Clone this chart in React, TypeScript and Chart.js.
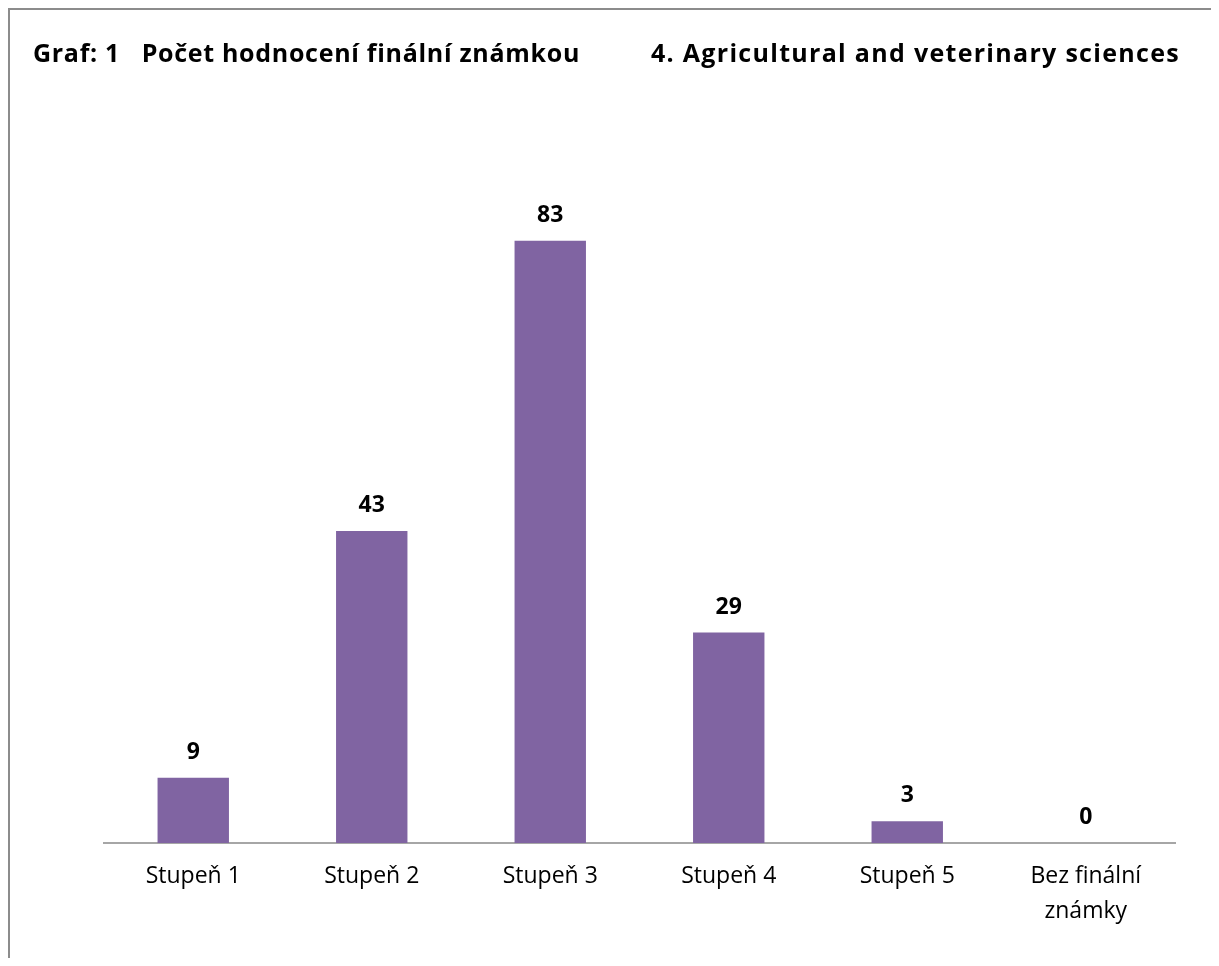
import React, { useEffect, useRef } from "react";
import { Chart, registerables } from "chart.js";

Chart.register(...registerables);

const categories: (string | string[])[] = ["Stupeň 1", "Stupeň 2", "Stupeň 3", "Stupeň 4", "Stupeň 5", ["Bez finální", "známky"]];
const counts: number[] = [9, 43, 83, 29, 3, 0];
const titleLeft = "Graf: 1   Počet hodnocení finální známkou";
const titleRight = "4. Agricultural and veterinary sciences";

const FONT = "'Open Sans', Lato, sans-serif";
const BAR_COLOR = "#8064A2";

const valueLabels = {
  id: "valueLabels",
  afterDatasetsDraw(chart: any) {
    const ctx = chart.ctx;
    const meta = chart.getDatasetMeta(0);
    ctx.save();
    ctx.font = `bold 23px ${FONT}`;
    ctx.fillStyle = "#000";
    ctx.textAlign = "center";
    ctx.textBaseline = "alphabetic";
    meta.data.forEach((el: any, i: number) => {
      ctx.fillText(String(counts[i]), el.x, el.y - 19);
    });
    ctx.restore();
  },
};

export default function App() {
  const ref = useRef<HTMLCanvasElement | null>(null);
  useEffect(() => {
    if (!ref.current) return;
    const chart = new Chart(ref.current, {
      type: "bar",
      data: {
        labels: categories,
        datasets: [
          {
            data: counts,
            backgroundColor: BAR_COLOR,
            barPercentage: 0.4,
            categoryPercentage: 1,
          },
        ],
      },
      options: {
        animation: false,
        responsive: false,
        maintainAspectRatio: false,
        layout: { padding: { left: 96, right: 44, top: 182, bottom: 0 } },
        plugins: { legend: { display: false }, tooltip: { enabled: false }, title: { display: false } },
        scales: {
          x: {
            grid: { display: false, drawTicks: false },
            border: { display: true, color: "#a6a6a6", width: 2 },
            ticks: { color: "#000", font: { family: FONT, size: 23, lineHeight: 1.52 }, padding: 16, maxRotation: 0 },
            afterFit: (scale: any) => {
              scale.height = 115;
            },
          },
          y: {
            display: false,
            min: 0,
            max: 90,
          },
        },
      },
      plugins: [valueLabels],
    });
    return () => chart.destroy();
  }, []);

  const titleStyle: React.CSSProperties = {
    position: "absolute",
    top: 30,
    fontSize: 25,
    lineHeight: "25px",
    fontWeight: 700,
    letterSpacing: "1.3px",
    whiteSpace: "pre",
    color: "#000",
    zIndex: 1,
  };

  return (
    <div
      style={{
        position: "relative",
        width: 1211,
        height: 950,
        boxSizing: "border-box",
        borderTop: "2px solid #8c8c8c",
        borderLeft: "2px solid #8c8c8c",
        fontFamily: FONT,
      }}
    >
      <span style={{ ...titleStyle, left: 23, letterSpacing: "0.7px" }}>{titleLeft}</span>
      <span style={{ ...titleStyle, left: 641 }}>{titleRight}</span>
      <canvas ref={ref} width={1211} height={950} style={{ position: "absolute", left: -2, top: -2 }} />
    </div>
  );
}
